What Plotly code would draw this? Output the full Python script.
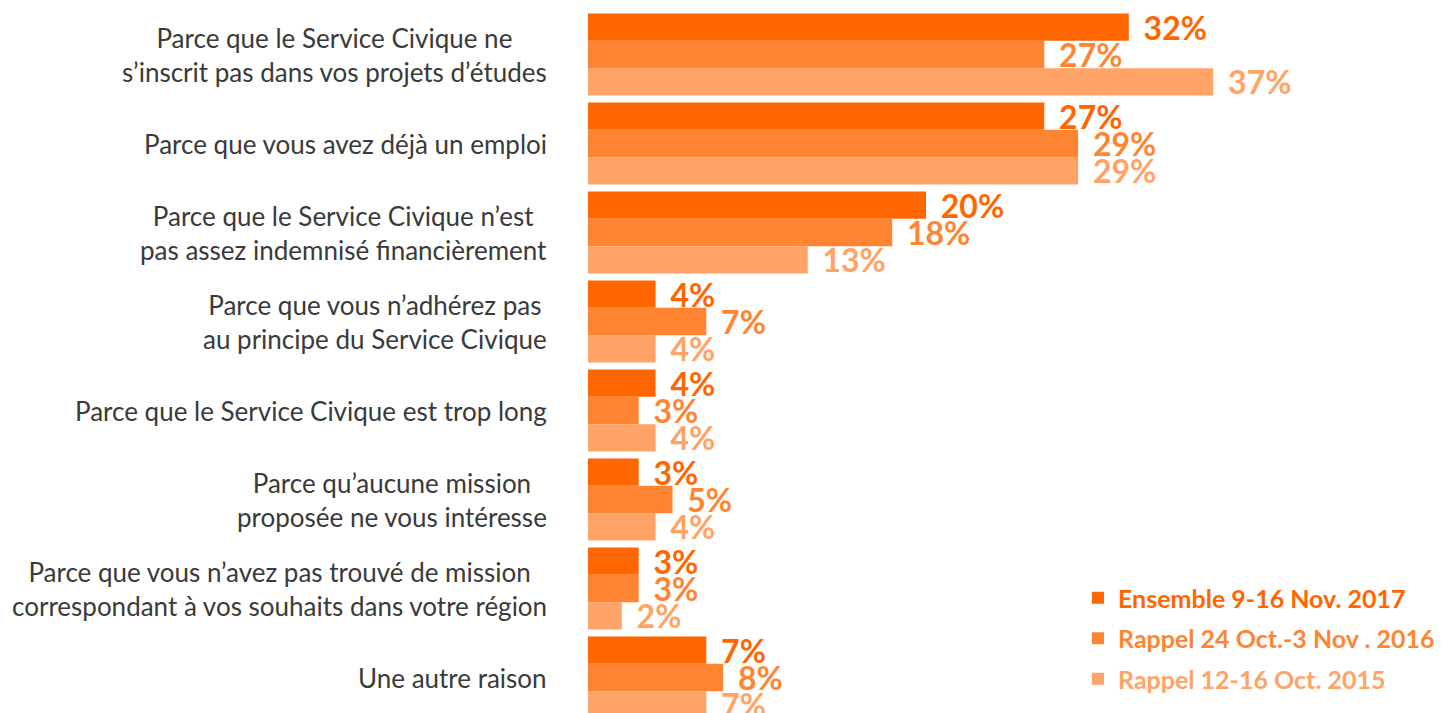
import plotly.graph_objects as go

categories = [
    "Parce que le Service Civique ne<br>s’inscrit pas dans vos projets d’études",
    "Parce que vous avez déjà un emploi",
    "Parce que le Service Civique n’est<br>pas assez indemnisé financièrement",
    "Parce que vous n’adhérez pas<br>au principe du Service Civique",
    "Parce que le Service Civique est trop long",
    "Parce qu’aucune mission<br>proposée ne vous intéresse",
    "Parce que vous n’avez pas trouvé de mission<br>correspondant à vos souhaits dans votre région",
    "Une autre raison",
]
series_names = ["Ensemble 9-16 Nov. 2017", "Rappel 24 Oct.-3 Nov . 2016", "Rappel 12-16 Oct. 2015"]
v2017 = [32, 27, 20, 4, 4, 3, 3, 7]
v2016 = [27, 29, 18, 7, 3, 5, 3, 8]
v2015 = [37, 29, 13, 4, 4, 4, 2, 7]
colors = ["#FF6600", "#FF8533", "#FFA366"]

W, H = 1442, 713
OFF = 8  # page body margin
L, T, B = 588 - OFF, 2, 0
px_per_pct = 16.9
pitch = 89.0
plot_w = W - L
plot_h = H - T - B
ypos = list(range(len(categories)))

fig = go.Figure()
for name, vals, col in zip(series_names, [v2017, v2016, v2015], colors):
    fig.add_trace(go.Bar(
        y=ypos, x=vals, orientation="h", name=f"<span style='color:{col}'>{name}</span>",
        marker=dict(color=col, line=dict(width=0)),
        texttemplate="\u00a0\u2009%{x}%", textposition="outside",
        textfont=dict(family="Lato", size=32, color=col, weight="bold"),
        constraintext="none", cliponaxis=False, legendgroup=name,
        hoverinfo="skip",
    ))

for i, c in enumerate(categories):
    fig.add_annotation(x=0, xref="paper", y=i, yref="y", text=c, showarrow=False,
                       xanchor="right", yanchor="middle", align="center", xshift=-39,
                       font=dict(family="Lato", size=26, color="#3a3a3a"))

fig.update_layout(
    width=W, height=H,
    margin=dict(l=L, r=0, t=T, b=B),
    plot_bgcolor="white", paper_bgcolor="white",
    barmode="group", bargap=1 - 82 / pitch, bargroupgap=0,
    xaxis=dict(range=[0, plot_w / px_per_pct], visible=False, fixedrange=True),
    yaxis=dict(range=[-0.5 + plot_h / pitch, -0.5], visible=False, fixedrange=True),
    showlegend=True,
    legend=dict(x=(1078 - OFF - L) / plot_w, xanchor="left",
                y=(H - B - (575 - OFF)) / plot_h, yanchor="top",
                traceorder="grouped", tracegroupgap=5,
                font=dict(family="Lato", size=25, weight="bold"),
                bgcolor="rgba(0,0,0,0)", itemwidth=30),
)

fig.write_html("out.html")
